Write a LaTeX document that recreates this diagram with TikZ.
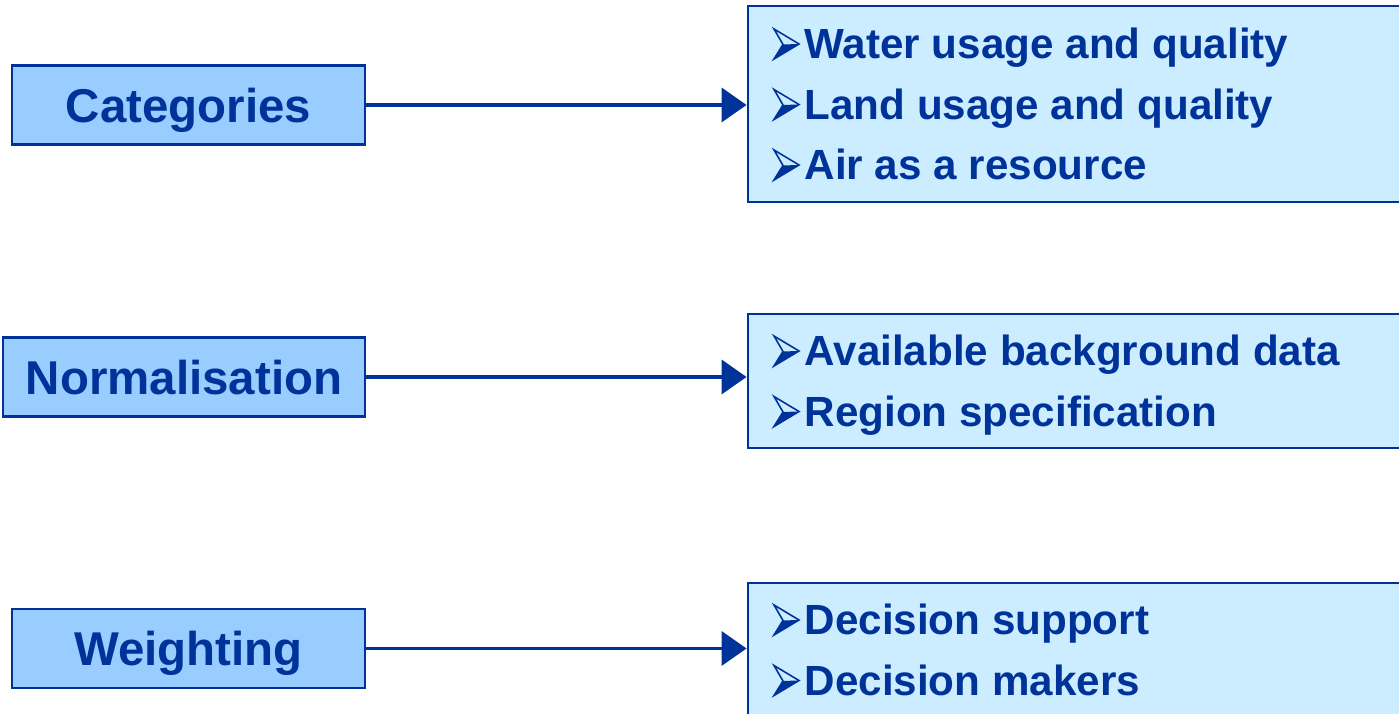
\documentclass[tikz,border=0pt]{standalone}
\usepackage{fontspec}
\setmainfont{Liberation Sans}
\usetikzlibrary{arrows.meta,positioning}
\definecolor{navy}{HTML}{003399}
\definecolor{stageblue}{HTML}{99CCFF}
\definecolor{listblue}{HTML}{CCECFF}

\begin{document}
\begin{tikzpicture}[
        stage/.style={
            draw=navy, line width=0.8pt, fill=stageblue, text=navy,
            font=\fontsize{13.5}{16}\selectfont\bfseries,
            minimum height=0.79cm, inner sep=0pt, text depth=0pt
        },
        list/.style={draw=navy, line width=0.8pt, fill=listblue, inner sep=0pt},
        item/.style={
            anchor=base west, text=navy, inner sep=0pt,
            font=\fontsize{12}{14}\selectfont\bfseries
        },
        arrowbullet/.pic={
            \fill[navy] (-0.30,0) -- (-0.05,0.15) -- (-0.21,0.145) -- cycle;
            \draw[navy, line width=0.45pt, line join=miter]
                (-0.30,0.30) -- (-0.05,0.15) -- (-0.30,0) -- (-0.21,0.145) -- cycle;
        },
        link/.style={-{Triangle[length=0.25cm,width=0.34cm]}, draw=navy, line width=1pt}
    ]
    \clip (0,0) rectangle (13.99,7.14);

    % Stages
    \node[stage, minimum width=3.53cm] (cat)  at (1.885,6.09) {Categories};
    \node[stage, minimum width=3.62cm] (norm) at (1.84,3.37)  {Normalisation};
    \node[stage, minimum width=3.53cm] (wgt)  at (1.885,0.655) {Weighting};

    % Lists
    \node[list, minimum width=6.62cm, minimum height=1.96cm] (catlist)  at (10.79,6.10) {};
    \node[list, minimum width=6.62cm, minimum height=1.34cm] (normlist) at (10.79,3.33) {};
    \node[list, minimum width=6.62cm, minimum height=1.51cm] (wgtlist)  at (10.79,0.555) {};

    % Items
    \foreach \txt [count=\i] in {Water usage and quality, Land usage and quality, Air as a resource}{
        \node[item] (cat-\i) at (8.04,{6.55-0.605*(\i-1)}) {\txt};
        \pic at (cat-\i.base west) {arrowbullet};
    }
    \foreach \txt [count=\i] in {Available background data, Region specification}{
        \node[item] (norm-\i) at (8.04,{3.48-0.605*(\i-1)}) {\txt};
        \pic at (norm-\i.base west) {arrowbullet};
    }
    \foreach \txt [count=\i] in {Decision support, Decision makers}{
        \node[item] (wgt-\i) at (8.04,{0.79-0.605*(\i-1)}) {\txt};
        \pic at (wgt-\i.base west) {arrowbullet};
    }

    % Links
    \draw[link] (cat.east)  -- (cat.east -| catlist.west);
    \draw[link] (norm.east) -- (norm.east -| normlist.west);
    \draw[link] (wgt.east)  -- (wgt.east -| wgtlist.west);

\end{tikzpicture}
\end{document}
